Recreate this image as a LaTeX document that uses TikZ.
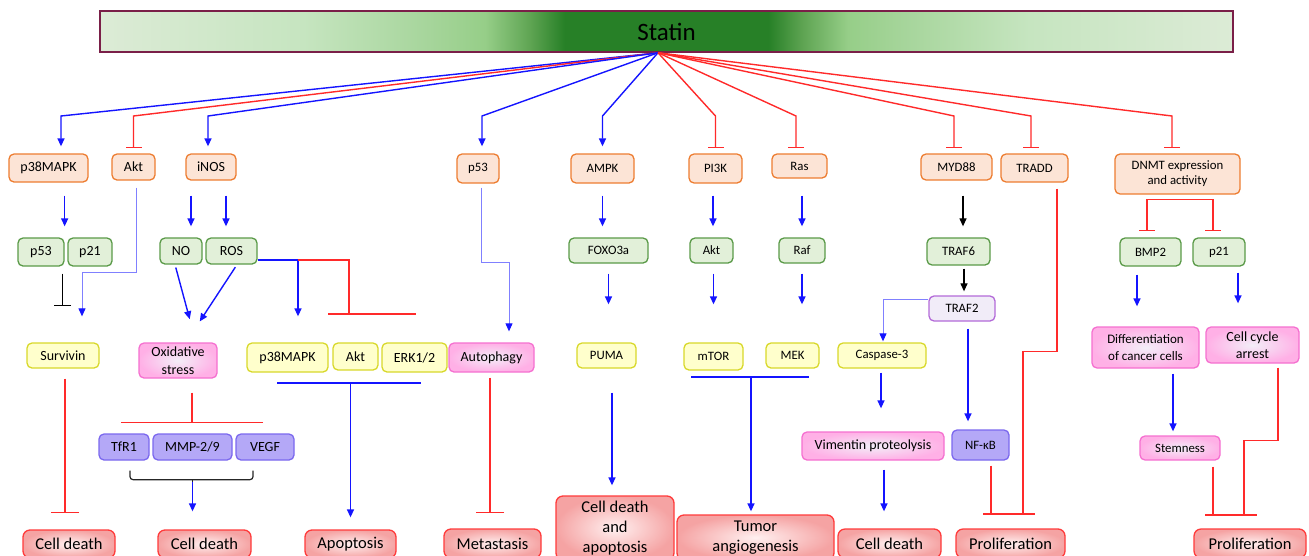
\documentclass[tikz,border=0pt]{standalone}
\usepackage{fontspec}
\setmainfont{Carlito}
\usepackage{tikz}
\usetikzlibrary{arrows.meta,calc}
\definecolor{org}{HTML}{ED7D31}
\definecolor{orgf}{HTML}{FCE4D6}
\definecolor{grn}{HTML}{5A9A48}
\definecolor{grnf}{HTML}{E2F0D9}
\definecolor{yel}{HTML}{D8D82A}
\definecolor{yelf}{HTML}{FFFFCC}
\definecolor{pnk}{HTML}{F570D0}
\definecolor{pnki}{HTML}{F3EEF8}
\definecolor{pnko}{HTML}{FFB0E6}
\definecolor{pur}{HTML}{7B68EE}
\definecolor{purf}{HTML}{B4A8F7}
\definecolor{lil}{HTML}{B36AD8}
\definecolor{lilf}{HTML}{F1ECF8}
\definecolor{rd}{HTML}{FF2A2A}
\definecolor{rdb}{HTML}{FF3B3B}
\definecolor{rdi}{HTML}{FFF0F0}
\definecolor{rdo}{HTML}{F5A3A3}
\definecolor{blu}{HTML}{1414FF}
\definecolor{lblu}{HTML}{8080FF}
\definecolor{statb}{HTML}{7A1F48}
\definecolor{g0}{HTML}{DCEBD6}
\definecolor{g1}{HTML}{C6E5C0}
\definecolor{g2}{HTML}{A6D59B}
\definecolor{g3}{HTML}{96CE88}
\definecolor{g4}{HTML}{5EA452}
\definecolor{g5}{HTML}{278027}
\pgfdeclarehorizontalshading{statinbar}{100bp}{color(0bp)=(g0); color(25bp)=(g0); color(34bp)=(g1); color(39.5bp)=(g2); color(42bp)=(g3); color(44bp)=(g4); color(45.5bp)=(g5); color(54.5bp)=(g5); color(56bp)=(g4); color(58bp)=(g3); color(60.5bp)=(g2); color(66bp)=(g1); color(75bp)=(g0); color(100bp)=(g0)}

\begin{document}
\begin{tikzpicture}[x=1pt, y=-1pt,
    box/.style={draw, rounded corners=5pt, line width=1.3pt, inner sep=0pt, align=center},
    obox/.style={box, draw=org, fill=orgf},
    gbox/.style={box, draw=grn, fill=grnf},
    ybox/.style={box, draw=yel, fill=yelf},
    pbox/.style={box, draw=pnk, inner color=pnki, outer color=pnko},
    ubox/.style={box, draw=pur, fill=purf},
    lbox/.style={box, draw=lil, fill=lilf},
    rbox/.style={box, draw=rdb, inner color=rdi, outer color=rdo, rounded corners=7pt, font=\fontsize{16.5}{20}\selectfont},
    fn/.style={font=\fontsize{14}{17}\selectfont},
    fs/.style={font=\fontsize{12.8}{15}\selectfont},
    act/.style={blu, line width=1.4pt, -{Triangle[length=8pt,width=7pt]}},
    lact/.style={lblu, line width=1pt, -{Triangle[length=8pt,width=7pt,color=blu]}},
    bact/.style={black, line width=1.2pt, -{Triangle[length=8pt,width=7pt]}},
    inh/.style={rd, line width=1.4pt, -{Bar[width=16pt,line width=1.4pt]}},
    winh/.style={rd, line width=1.4pt, -{Bar[width=28pt,line width=1.4pt]}},
    redl/.style={rd, line width=1.4pt},
    blul/.style={blu, line width=1.4pt},
    brc/.style={black!85, line width=1.2pt, rounded corners=3pt}]
\useasboundingbox (0,0) rectangle (1309,555);
\clip (0,0) rectangle (1309,555);

\node[draw=statb, line width=1.5pt, shade, shading=statinbar, minimum width=1133, minimum height=41, inner sep=0pt, font=\fontsize{25}{30}\selectfont] (statin) at (666.5,31.5) {Statin};

\node[obox, fn, minimum width=79, minimum height=28] (p38a) at (48.5,168) {p38MAPK};
\node[obox, fn, minimum width=43, minimum height=26] (akta) at (133.5,167) {Akt};
\node[obox, fn, minimum width=50, minimum height=26] (inos) at (211,167) {iNOS};
\node[obox, fs, minimum width=42, minimum height=29] (p53a) at (478,168.5) {p53};
\node[obox, fs, minimum width=63, minimum height=29] (ampk) at (602.5,168.5) {AMPK};
\node[obox, fs, minimum width=53, minimum height=29] (pi3k) at (715.5,168.5) {PI3K};
\node[obox, fs, minimum width=55, minimum height=24] (ras) at (799.5,166) {Ras};
\node[obox, fs, minimum width=71, minimum height=26] (myd88) at (956.5,167) {MYD88};
\node[obox, fs, minimum width=67, minimum height=28] (tradd) at (1034.5,168) {TRADD};
\node[obox, fs, minimum width=125, minimum height=40] (dnmt) at (1177.5,174) {DNMT expression\\and activity};

\node[gbox, fn, minimum width=46, minimum height=28] (p53b) at (41,252) {p53};
\node[gbox, fn, minimum width=44, minimum height=28] (p21b) at (90,252) {p21};
\node[gbox, fn, minimum width=42, minimum height=26] (no) at (181,251) {NO};
\node[gbox, fn, minimum width=51, minimum height=26] (ros) at (231.5,251) {ROS};
\node[gbox, fs, minimum width=79, minimum height=25] (foxo) at (608.5,250.5) {FOXO3a};
\node[gbox, fs, minimum width=43, minimum height=25] (aktb) at (711.5,250.5) {Akt};
\node[gbox, fs, minimum width=46, minimum height=25] (raf) at (802,250.5) {Raf};
\node[gbox, fs, minimum width=63, minimum height=27] (traf6) at (958.5,251.5) {TRAF6};
\node[gbox, fs, minimum width=61, minimum height=28] (bmp2) at (1150.5,252) {BMP2};
\node[gbox, fs, minimum width=52, minimum height=28] (p21c) at (1219,252) {p21};

\node[lbox, fs, minimum width=66, minimum height=25] (traf2) at (962,308.5) {TRAF2};
\node[ybox, fn, minimum width=72, minimum height=25] (survivin) at (63,355.5) {Survivin};
\node[pbox, fn, minimum width=78, minimum height=35, font=\fontsize{14}{18}\selectfont] (oxs) at (178,360.5) {Oxidative\\stress};
\node[ybox, fn, minimum width=81, minimum height=29] (p38c) at (287.5,357.5) {p38MAPK};
\node[ybox, fn, minimum width=45, minimum height=27] (aktc) at (355.5,356.5) {Akt};
\node[ybox, fn, minimum width=65, minimum height=29] (erk) at (414.5,357.5) {ERK1/2};
\node[pbox, fn, minimum width=85, minimum height=29] (autoph) at (491.5,357.5) {Autophagy};
\node[ybox, fs, minimum width=59, minimum height=25] (puma) at (606.5,355.5) {PUMA};
\node[ybox, fs, minimum width=59, minimum height=27] (mtor) at (713.5,356.5) {mTOR};
\node[ybox, fs, minimum width=53, minimum height=25] (mek) at (792.5,355.5) {MEK};
\node[ybox, fs, minimum width=88, minimum height=25] (casp) at (882,355.5) {Caspase-3};
\node[pbox, minimum width=107, minimum height=41, font=\fontsize{13}{17}\selectfont] (diff) at (1145.5,347.5) {Differentiation\\of cancer cells};
\node[pbox, minimum width=93, minimum height=36, font=\fontsize{14}{17}\selectfont] (cca) at (1252.5,345) {Cell cycle\\arrest};

\node[ubox, fn, minimum width=50, minimum height=26] (tfr1) at (124,447) {TfR1};
\node[ubox, fn, minimum width=79, minimum height=26] (mmp) at (192.5,447) {MMP-2/9};
\node[ubox, fn, minimum width=58, minimum height=26] (vegf) at (265,447) {VEGF};
\node[pbox, fn, minimum width=142, minimum height=28] (vim) at (873,446) {Vimentin proteolysis};
\node[ubox, fs, minimum width=57, minimum height=30] (nfkb) at (980.5,445) {NF-κB};
\node[pbox, fs, minimum width=80, minimum height=24] (stem) at (1180,448) {Stemness};

\node[rbox, minimum width=92, minimum height=28] (cd1) at (69,544) {Cell death};
\node[rbox, minimum width=93, minimum height=28] (cd2) at (204.5,544) {Cell death};
\node[rbox, minimum width=91, minimum height=28] (apop) at (350.5,544) {Apoptosis};
\node[rbox, minimum width=97, minimum height=29] (meta) at (492.5,543.5) {Metastasis};
\node[rbox, minimum width=118, minimum height=64] (cda) at (615,528) {Cell death\\and\\apoptosis};
\node[rbox, minimum width=157, minimum height=45] (tumor) at (755.5,537.5) {Tumor\\angiogenesis};
\node[rbox, minimum width=103, minimum height=29] (cd3) at (889.5,543.5) {Cell death};
\node[rbox, minimum width=109, minimum height=29] (prol1) at (1010.5,543.5) {Proliferation};
\node[rbox, minimum width=112, minimum height=29] (prol2) at (1250,543.5) {Proliferation};

\coordinate (hub) at ([xshift=-8.5pt]statin.south);
\coordinate (lvl) at (0,116);
\draw[act, shorten >=7pt] (hub) -- ([xshift=12.5pt]p38a.north |- lvl) -- ([xshift=12.5pt]p38a.north);
\draw[inh, shorten >=5pt] (hub) -- (akta.north |- lvl) -- (akta.north);
\draw[act, shorten >=7pt] (hub) -- ([xshift=-3pt]inos.north |- lvl) -- ([xshift=-3pt]inos.north);
\draw[act, shorten >=7pt] (hub) -- ([xshift=4pt]p53a.north |- lvl) -- ([xshift=4pt]p53a.north);
\draw[act, shorten >=7pt] (hub) -- (ampk.north |- lvl) -- (ampk.north);
\draw[inh, shorten >=5pt] (hub) -- (pi3k.north |- lvl) -- (pi3k.north);
\draw[inh, shorten >=5pt] (hub) -- ([xshift=-3.5pt]ras.north |- lvl) -- ([xshift=-3.5pt]ras.north);
\draw[inh, shorten >=5pt] (hub) -- ([xshift=-2.5pt]myd88.north |- lvl) -- ([xshift=-2.5pt]myd88.north);
\draw[inh, shorten >=5pt] (hub) -- ([xshift=-3.5pt]tradd.north |- lvl) -- ([xshift=-3.5pt]tradd.north);
\draw[inh, shorten >=5pt] (hub) -- ([xshift=-5.5pt]dnmt.north |- lvl) -- ([xshift=-5.5pt]dnmt.north);

\draw[act, shorten <=13pt, shorten >=11pt] (p38a.south -| p53b.north east) -- (p53b.north east);
\draw[act, shorten <=15pt, shorten >=11pt] ([xshift=10pt]no.north |- inos.south) -- ([xshift=10pt]no.north);
\draw[act, shorten <=15pt, shorten >=11pt] ([xshift=-5.5pt]ros.north |- inos.south) -- ([xshift=-5.5pt]ros.north);
\draw[act, shorten <=12pt, shorten >=11pt] (ampk.south) -- (ampk.south |- foxo.north);
\draw[act, shorten <=12pt, shorten >=11pt] ([xshift=1.5pt]aktb.north |- pi3k.south) -- ([xshift=1.5pt]aktb.north);
\draw[act, shorten <=17pt, shorten >=11pt] (raf.north |- ras.south) -- (raf.north);
\draw[bact, shorten <=15pt, shorten >=11pt] ([xshift=4.5pt]traf6.north |- myd88.south) -- ([xshift=4.5pt]traf6.north);
\coordinate (dn) at ([yshift=-5pt]dnmt.south);
\draw[inh, shorten >=6pt] (dn) -| ([xshift=-3.5pt]bmp2.north);
\draw[inh, shorten >=6pt] (dn) -| ([xshift=-6pt]p21c.north);

\draw[black, line width=1.2pt, -{Bar[width=17pt,line width=1.2pt]}, shorten <=7pt, shorten >=36pt] ([xshift=-2pt]p53b.south east) -- ([xshift=-2pt]p53b.south east |- survivin.north);
\draw[lact, shorten <=7pt, shorten >=26pt] ([xshift=2.5pt]akta.south) -- ++(0,92) -| ([xshift=19pt]survivin.north);
\draw[act, shorten <=3pt, shorten >=24pt] ([xshift=-6pt]no.south) -- ([xshift=18pt]oxs.north);
\draw[act, shorten <=3pt, shorten >=25pt] ([xshift=5.5pt]ros.south) -- ([xshift=8pt]oxs.north);
\coordinate (fork) at (298,260);
\coordinate (rbar) at (349,314);
\draw[act, shorten >=26pt] (ros.east |- fork) -- (fork) -- (fork |- p38c.north);
\draw[redl] (fork) -| (rbar);
\draw[redl] ([xshift=-21pt]rbar) -- ([xshift=67pt]rbar);
\draw[lact, shorten <=4pt, shorten >=11pt] ([xshift=3pt]p53a.south) -- ++(0,79) -| ([xshift=17.5pt]autoph.north);
\draw[act, shorten <=10pt, shorten >=38pt] (foxo.south) -- (foxo.south |- puma.north);
\draw[act, shorten <=10pt, shorten >=38pt] (mtor.north |- aktb.south) -- (mtor.north);
\draw[act, shorten <=10pt, shorten >=38pt] (raf.south) -- (raf.south |- mek.north);
\draw[act, shorten <=8pt, shorten >=20pt] ([xshift=-13.5pt]bmp2.south) -- ([xshift=-13.5pt]bmp2.south |- diff.north);
\draw[act, shorten <=6pt, shorten >=23pt] ([xshift=19pt]p21c.south) -- ([xshift=19pt]p21c.south |- cca.north);
\draw[bact, shorten <=3pt, shorten >=4pt] ([xshift=5.5pt]traf6.south) -- ([xshift=5.5pt]traf6.south |- traf2.north);
\draw[lact, shorten >=1pt] ([yshift=9.5pt]traf2.west) -| ([xshift=1pt]casp.north);
\draw[act, shorten <=7pt, shorten >=8pt] ([xshift=6pt]traf2.south) -- ([xshift=6pt]traf2.south |- nfkb.north);
\draw[act, shorten <=4pt, shorten >=23pt] ([xshift=-1pt]casp.south) -- ([xshift=-1pt]casp.south |- vim.north);
\draw[act, shorten <=9pt, shorten >=17pt] ([xshift=11pt]vim.south) -- ([xshift=11pt]vim.south |- cd3.north);
\draw[act, shorten <=5pt, shorten >=4pt] ([xshift=27.5pt]diff.south) -- ([xshift=27.5pt]diff.south |- stem.north);

\draw[winh, shorten <=10pt, shorten >=16pt] ([xshift=2pt]survivin.south) -- ([xshift=2pt]survivin.south |- cd1.north);
\draw[rd, line width=1.4pt, -{Bar[width=142pt,line width=1.4pt]}, shorten <=14pt, shorten >=10pt] ([xshift=14pt]oxs.south) -- ([xshift=14pt]oxs.south |- tfr1.north);
\draw[brc] ([xshift=6pt,yshift=-10pt]tfr1.south) |- ([yshift=-19pt]mmp.south) -| ([xshift=-12pt,yshift=-10pt]vegf.south);
\draw[brc] ([yshift=-19pt]mmp.south) -- ([yshift=-23pt]mmp.south);
\draw[act, shorten >=18pt] ([yshift=-21pt]mmp.south) -- (mmp.south |- cd2.north);
\coordinate (gl) at (277,383);
\coordinate (gr) at (421,383);
\draw[blul] (gl) -- (gr);
\draw[act, shorten >=12pt] (gl -| apop.north) -- (apop.north);
\draw[winh, shorten <=5pt, shorten >=15pt] ([xshift=-1.5pt]autoph.south) -- ([xshift=-1.5pt]autoph.south |- meta.north);
\draw[act, shorten <=24pt, shorten >=10pt] ([xshift=5.5pt]puma.south) -- ([xshift=5.5pt]puma.south |- cda.north);
\coordinate (tl) at (691,377);
\coordinate (tr) at (809,377);
\draw[blul] (tl) -- (tr);
\draw[act, shorten >=3pt] ([xshift=-4.5pt]tumor.north |- tl) -- ([xshift=-4.5pt]tumor.north);

\coordinate (pbar1) at (1009,514);
\draw[redl, shorten <=5pt] ([xshift=10.5pt]nfkb.south) -- ([xshift=10.5pt]nfkb.south |- pbar1);
\draw[redl, shorten <=6pt] ([xshift=22.5pt]tradd.south) -- ++(0,169) -| ([xshift=14pt]pbar1);
\draw[redl] ([xshift=-26pt]pbar1) -- ([xshift=26pt]pbar1);
\coordinate (pbar2) at (1231,515);
\draw[redl, shorten <=6pt] ([xshift=33pt]stem.south) -- ([xshift=33pt]stem.south |- pbar2);
\draw[redl, shorten <=4pt] ([xshift=25.5pt]cca.south) -- ++(0,77) -| ([xshift=13pt]pbar2);
\draw[redl] ([xshift=-26pt]pbar2) -- ([xshift=26pt]pbar2);
\end{tikzpicture}
\end{document}
